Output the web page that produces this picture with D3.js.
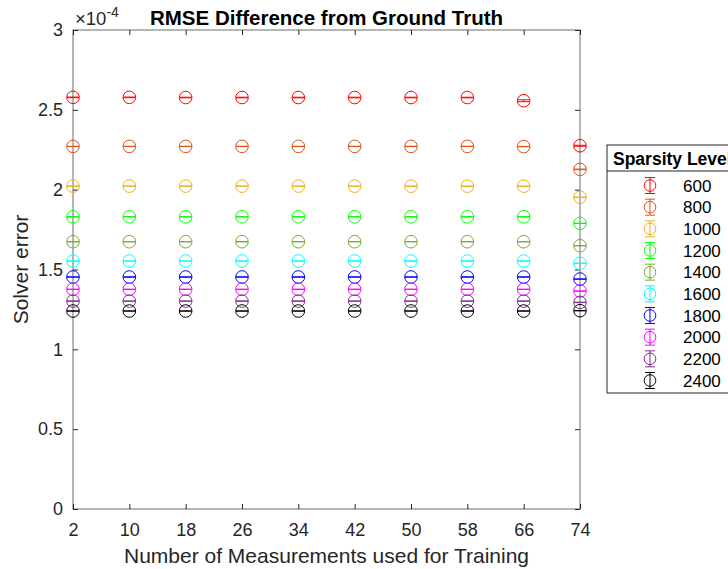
<!DOCTYPE html>
<html>
<head>
<meta charset="utf-8">
<script src="https://cdn.jsdelivr.net/npm/d3@7"></script>
<style>
  body { margin: 0; background: #fff; }
  svg { font-family: "Liberation Sans", Arial, sans-serif; }
</style>
</head>
<body>
<svg id="chart"></svg>
<script>
const width = 728;
const height = 569;

// Data (values in units of 1e-4)
const measurements = [2, 10, 18, 26, 34, 42, 50, 58, 66, 74];
const sparsityLevels = ["600", "800", "1000", "1200", "1400", "1600", "1800", "2000", "2200", "2400"];
const colors = ["#ff0000", "#d95319", "#edb120", "#00ff00", "#77ac30", "#00ffff", "#0000ff", "#ff00ff", "#7e2f8e", "#000000"];
const rmse = [
  [2.578, 2.578, 2.577, 2.577, 2.577, 2.577, 2.577, 2.577, 2.557, 2.275],
  [2.271, 2.271, 2.271, 2.271, 2.271, 2.271, 2.271, 2.271, 2.270, 2.127],
  [2.022, 2.022, 2.022, 2.022, 2.022, 2.022, 2.022, 2.022, 2.022, 1.952],
  [1.830, 1.830, 1.830, 1.830, 1.830, 1.830, 1.830, 1.830, 1.830, 1.789],
  [1.674, 1.674, 1.674, 1.674, 1.674, 1.674, 1.674, 1.674, 1.674, 1.649],
  [1.553, 1.553, 1.553, 1.553, 1.553, 1.553, 1.553, 1.553, 1.553, 1.539],
  [1.453, 1.453, 1.453, 1.453, 1.453, 1.453, 1.453, 1.453, 1.453, 1.440],
  [1.376, 1.376, 1.376, 1.376, 1.376, 1.376, 1.376, 1.376, 1.376, 1.365],
  [1.302, 1.302, 1.302, 1.302, 1.302, 1.302, 1.302, 1.302, 1.302, 1.294],
  [1.240, 1.240, 1.240, 1.240, 1.240, 1.240, 1.240, 1.240, 1.240, 1.242]
];
const errors = [
  [0.002, 0.002, 0.002, 0.002, 0.002, 0.002, 0.002, 0.002, 0.006, 0.003],
  [0.001, 0.001, 0.001, 0.001, 0.001, 0.001, 0.001, 0.001, 0.001, 0.002],
  [0.001, 0.001, 0.001, 0.001, 0.001, 0.001, 0.001, 0.001, 0.001, 0.002],
  [0.001, 0.001, 0.001, 0.001, 0.001, 0.001, 0.001, 0.001, 0.001, 0.001],
  [0.001, 0.001, 0.001, 0.001, 0.001, 0.001, 0.001, 0.001, 0.001, 0.001],
  [0.001, 0.001, 0.001, 0.001, 0.001, 0.001, 0.001, 0.001, 0.001, 0.001],
  [0.001, 0.001, 0.001, 0.001, 0.001, 0.001, 0.001, 0.001, 0.001, 0.001],
  [0.001, 0.001, 0.001, 0.001, 0.001, 0.001, 0.001, 0.001, 0.001, 0.001],
  [0.001, 0.001, 0.001, 0.001, 0.001, 0.001, 0.001, 0.001, 0.001, 0.001],
  [0.001, 0.001, 0.001, 0.001, 0.001, 0.001, 0.001, 0.001, 0.001, 0.001]
];
const yTicks = [0, 0.5, 1, 1.5, 2, 2.5, 3];

const plotLeft = 73, plotRight = 580, plotTop = 30, plotBottom = 509;

const svg = d3.select("#chart")
  .attr("width", width)
  .attr("height", height);

const x = d3.scaleLinear().domain([2, 74]).range([plotLeft, plotRight]);
const y = d3.scaleLinear().domain([0, 3]).range([plotBottom, plotTop]);

const axisColor = "#262626";
const tickLen = 5;

// Box
svg.append("rect")
  .attr("x", x(2)).attr("y", y(3))
  .attr("width", x(74) - x(2)).attr("height", y(0) - y(3))
  .attr("fill", "none").attr("stroke", "#6e6e6e").attr("stroke-width", 1);

// Axes (ticks inward)
const xAxis = svg.append("g")
  .attr("transform", `translate(0,${y(0)})`)
  .call(d3.axisBottom(x).tickValues(measurements).tickSize(-tickLen).tickPadding(14).tickFormat(d3.format("d")));
const xTop = svg.append("g")
  .attr("transform", `translate(0,${y(3)})`)
  .call(d3.axisTop(x).tickValues(measurements).tickSize(-tickLen).tickFormat(""));
const yAxis = svg.append("g")
  .attr("transform", `translate(${x(2)},0)`)
  .call(d3.axisLeft(y).tickValues(yTicks).tickSize(-tickLen).tickPadding(10).tickFormat(d => d));
const yRight = svg.append("g")
  .attr("transform", `translate(${x(74)},0)`)
  .call(d3.axisRight(y).tickValues(yTicks).tickSize(-tickLen).tickFormat(""));

[xAxis, xTop, yAxis, yRight].forEach(g => {
  g.select(".domain").remove();
  g.selectAll(".tick line").attr("stroke", axisColor);
  g.selectAll(".tick text").attr("fill", axisColor).style("font-size", "18px").style("font-family", "Liberation Sans, Arial, sans-serif");
});

// Exponent label
svg.append("text")
  .attr("x", 75).attr("y", 25)
  .attr("fill", axisColor)
  .style("font-size", "18.5px")
  .html('\u00d710<tspan dy="-8" font-size="14px">-4</tspan>');

// Title
svg.append("text")
  .attr("x", (x(2) + x(74)) / 2).attr("y", 25)
  .attr("text-anchor", "middle")
  .attr("font-weight", "bold")
  .style("font-size", "20.5px")
  .attr("fill", "#000")
  .text("RMSE Difference from Ground Truth");

// Axis labels
svg.append("text")
  .attr("x", (x(2) + x(74)) / 2).attr("y", 563)
  .attr("text-anchor", "middle")
  .style("font-size", "21px")
  .attr("fill", axisColor)
  .text("Number of Measurements used for Training");

svg.append("text")
  .attr("transform", `translate(28,${(y(0) + y(3)) / 2}) rotate(-90)`)
  .attr("text-anchor", "middle")
  .style("font-size", "21px")
  .attr("fill", axisColor)
  .text("Solver error");

// Series
const r = 6.3;
const capW = 12;
sparsityLevels.forEach((lvl, i) => {
  const g = svg.append("g").attr("stroke", colors[i]).attr("fill", "none").attr("stroke-width", 1);
  measurements.forEach((m, j) => {
    const cx = x(m);
    const v = rmse[i][j];
    const e = errors[i][j];
    const yl = y(v - e), yh = y(v + e);
    g.append("line").attr("x1", cx).attr("x2", cx).attr("y1", yl).attr("y2", yh);
    g.append("line").attr("x1", cx - capW / 2).attr("x2", cx + capW / 2).attr("y1", yl).attr("y2", yl);
    g.append("line").attr("x1", cx - capW / 2).attr("x2", cx + capW / 2).attr("y1", yh).attr("y2", yh);
    g.append("circle").attr("cx", cx).attr("cy", y(v)).attr("r", r);
  });
});

// Legend (runs off the right edge, as in the original figure)
const legX = 607, legY = 145;
const leg = svg.append("g");
leg.append("rect")
  .attr("x", legX).attr("y", legY)
  .attr("width", 140).attr("height", 248)
  .attr("fill", "#fff").attr("stroke", "#262626").attr("stroke-width", 1);
leg.append("line")
  .attr("x1", legX).attr("x2", legX + 140)
  .attr("y1", 171).attr("y2", 171)
  .attr("stroke", "#262626");
leg.append("text")
  .attr("x", 613).attr("y", 165)
  .attr("font-weight", "bold")
  .style("font-size", "17.5px")
  .attr("fill", "#000")
  .text("Sparsity Level");

const rowY = d3.scalePoint().domain(sparsityLevels).range([185.5, 380.5]);
sparsityLevels.forEach((lvl, i) => {
  const cy = rowY(lvl);
  const g = leg.append("g").attr("stroke", colors[i]).attr("fill", "none");
  g.append("line").attr("x1", 650).attr("x2", 650).attr("y1", cy - 8).attr("y2", cy + 8);
  g.append("line").attr("x1", 645).attr("x2", 655).attr("y1", cy - 8).attr("y2", cy - 8);
  g.append("line").attr("x1", 645).attr("x2", 655).attr("y1", cy + 8).attr("y2", cy + 8);
  g.append("circle").attr("cx", 650).attr("cy", cy).attr("r", 5.8);
  leg.append("text")
    .attr("x", 683).attr("y", cy + 6.2)
    .style("font-size", "17px")
    .attr("fill", "#000")
    .text(lvl);
});
</script>
</body>
</html>
